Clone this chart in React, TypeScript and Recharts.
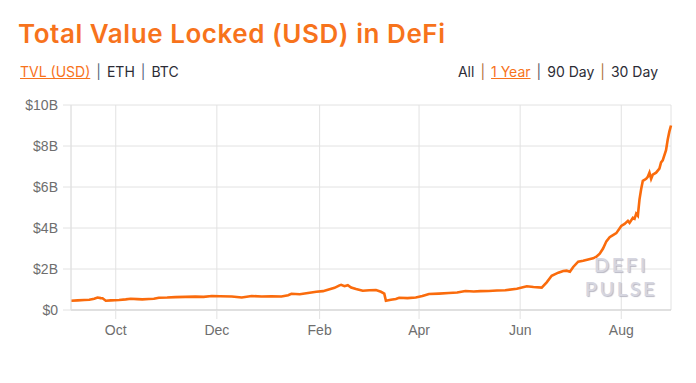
import { LineChart, Line, XAxis, YAxis, CartesianGrid } from 'recharts';

const dates = [
  '2019-09-04','2019-09-08','2019-09-12','2019-09-15','2019-09-18','2019-09-20','2019-09-22','2019-09-23','2019-09-25','2019-09-28',
  '2019-10-03','2019-10-07','2019-10-10','2019-10-14','2019-10-17','2019-10-21','2019-10-24','2019-10-27','2019-11-01','2019-11-06',
  '2019-11-12','2019-11-18','2019-11-23','2019-11-28','2019-12-03','2019-12-10','2019-12-16','2019-12-22','2019-12-28','2020-01-03',
  '2020-01-09','2020-01-13','2020-01-15','2020-01-20','2020-01-25','2020-01-30','2020-02-03','2020-02-06','2020-02-10','2020-02-13',
  '2020-02-14','2020-02-16','2020-02-18','2020-02-20','2020-02-23','2020-02-27','2020-03-02','2020-03-06','2020-03-09','2020-03-11',
  '2020-03-12','2020-03-15','2020-03-18','2020-03-20','2020-03-25','2020-03-30','2020-04-03','2020-04-07','2020-04-13','2020-04-19',
  '2020-04-24','2020-04-29','2020-05-04','2020-05-08','2020-05-13','2020-05-18','2020-05-23','2020-05-30','2020-06-05','2020-06-09',
  '2020-06-14','2020-06-17','2020-06-20','2020-06-24','2020-06-27','2020-06-29','2020-07-01','2020-07-03','2020-07-06','2020-07-09',
  '2020-07-12','2020-07-15','2020-07-17','2020-07-19','2020-07-21','2020-07-23','2020-07-25','2020-07-27','2020-07-29','2020-08-01',
  '2020-08-03','2020-08-05','2020-08-06','2020-08-08','2020-08-09','2020-08-10','2020-08-11','2020-08-12','2020-08-13','2020-08-14',
  '2020-08-16','2020-08-17','2020-08-18','2020-08-19','2020-08-20','2020-08-22','2020-08-24','2020-08-25','2020-08-26','2020-08-28',
  '2020-08-29','2020-08-30','2020-08-31',
];

// TVL in billions of USD
const tvl = [
  0.45, 0.47, 0.49, 0.50, 0.55, 0.61, 0.58, 0.57, 0.45, 0.47,
  0.49, 0.52, 0.55, 0.53, 0.52, 0.54, 0.55, 0.60, 0.61, 0.63,
  0.64, 0.65, 0.64, 0.68, 0.67, 0.66, 0.61, 0.68, 0.66, 0.67,
  0.66, 0.72, 0.79, 0.77, 0.83, 0.89, 0.92, 0.99, 1.08, 1.20,
  1.23, 1.16, 1.21, 1.10, 1.02, 0.94, 0.96, 0.97, 0.89, 0.80,
  0.45, 0.50, 0.54, 0.60, 0.58, 0.61, 0.68, 0.78, 0.80, 0.83,
  0.85, 0.93, 0.90, 0.92, 0.93, 0.95, 0.96, 1.04, 1.16, 1.12,
  1.09, 1.35, 1.67, 1.82, 1.90, 1.92, 1.87, 2.10, 2.36, 2.40,
  2.46, 2.52, 2.60, 2.75, 3.00, 3.35, 3.55, 3.65, 3.75, 4.10,
  4.20, 4.35, 4.25, 4.50, 4.45, 4.70, 4.60, 5.40, 5.90, 6.30,
  6.40, 6.50, 6.70, 6.40, 6.60, 6.70, 6.90, 7.20, 7.30, 7.80,
  8.30, 8.70, 9.00,
];

const monthTicks = ['2019-10-01', '2019-12-01', '2020-02-01', '2020-04-01', '2020-06-01', '2020-08-01'];
const yTicks = [0, 2, 4, 6, 8, 10];
const MONTHS = ['Jan','Feb','Mar','Apr','May','Jun','Jul','Aug','Sep','Oct','Nov','Dec'];

const data = dates.map((d, i) => ({ t: Date.parse(d), v: tvl[i] }));

const ORANGE = '#f7731c';
const GRID = '#e2e2e2';
const tickFont = { fontSize: 14, fill: '#6e6e6e', fontFamily: "'Liberation Sans', Arial, sans-serif" };

const Sep = ({ color }: { color: string }) => (
  <span style={{ color, margin: '0 6px' }}>|</span>
);

const watermark = {
  position: 'absolute' as const, left: 571, width: 100, textAlign: 'center' as const,
  fontSize: 20, lineHeight: '24px', fontWeight: 600, letterSpacing: 2.5,
  color: '#d6d6e0', textShadow: '1px 1px 1px #b8b8c4', fontFamily: 'Lato, sans-serif',
};

export default function App() {
  return (
    <div style={{ position: 'relative', width: 696, height: 383, background: '#fff', fontFamily: 'Inter, sans-serif' }}>
      <style>{'body{margin:0}'}</style>
      <div style={{ position: 'absolute', left: 18, top: 21, fontSize: 26, lineHeight: 1, fontWeight: 600, letterSpacing: 0.55, color: ORANGE, whiteSpace: 'nowrap' }}>
        Total Value Locked (USD) in DeFi
      </div>
      <div style={{ position: 'absolute', left: 20, top: 65, fontSize: 14, lineHeight: 1, color: '#2c2c36', whiteSpace: 'nowrap' }}>
        <span style={{ color: ORANGE, textDecoration: 'underline' }}>TVL (USD)</span>
        <Sep color="#56657a" />ETH<Sep color="#56657a" />BTC
      </div>
      <div style={{ position: 'absolute', right: 38, top: 65, fontSize: 14, lineHeight: 1, color: '#2c2c36', whiteSpace: 'nowrap' }}>
        All<Sep color="#b07040" />
        <span style={{ color: ORANGE, textDecoration: 'underline' }}>1 Year</span>
        <Sep color="#5a5a66" />90 Day<Sep color="#b07040" />30 Day
      </div>
      <div style={{ position: 'absolute', left: 0, top: 0 }}>
        <LineChart width={696} height={383} data={data} margin={{ top: 105, right: 25, left: 0, bottom: 42 }}>
          <CartesianGrid stroke={GRID} />
          <XAxis
            dataKey="t"
            type="number"
            scale="time"
            domain={[Date.parse('2019-09-04'), Date.parse('2020-08-31')]}
            ticks={monthTicks.map((m) => Date.parse(m))}
            tickFormatter={(t: number) => MONTHS[new Date(t).getUTCMonth()]}
            axisLine={{ stroke: '#cfcfcf' }}
            tickLine={{ stroke: GRID }}
            tickSize={9}
            tickMargin={6}
            height={31}
            tick={tickFont}
          />
          <YAxis
            domain={[0, 10]}
            ticks={yTicks}
            tickFormatter={(v: number) => (v === 0 ? '$0' : `$${v}B`)}
            axisLine={{ stroke: GRID }}
            tickLine={{ stroke: GRID }}
            tickSize={8}
            tickMargin={5}
            width={71}
            tick={tickFont}
          />
          <Line
            type="linear"
            dataKey="v"
            stroke="#fa6b0c"
            strokeWidth={2.6}
            dot={false}
            isAnimationActive={false}
          />
        </LineChart>
      </div>
      <div style={{ ...watermark, top: 252 }}>DEFI</div>
      <div style={{ ...watermark, top: 276 }}>PULSE</div>
    </div>
  );
}
